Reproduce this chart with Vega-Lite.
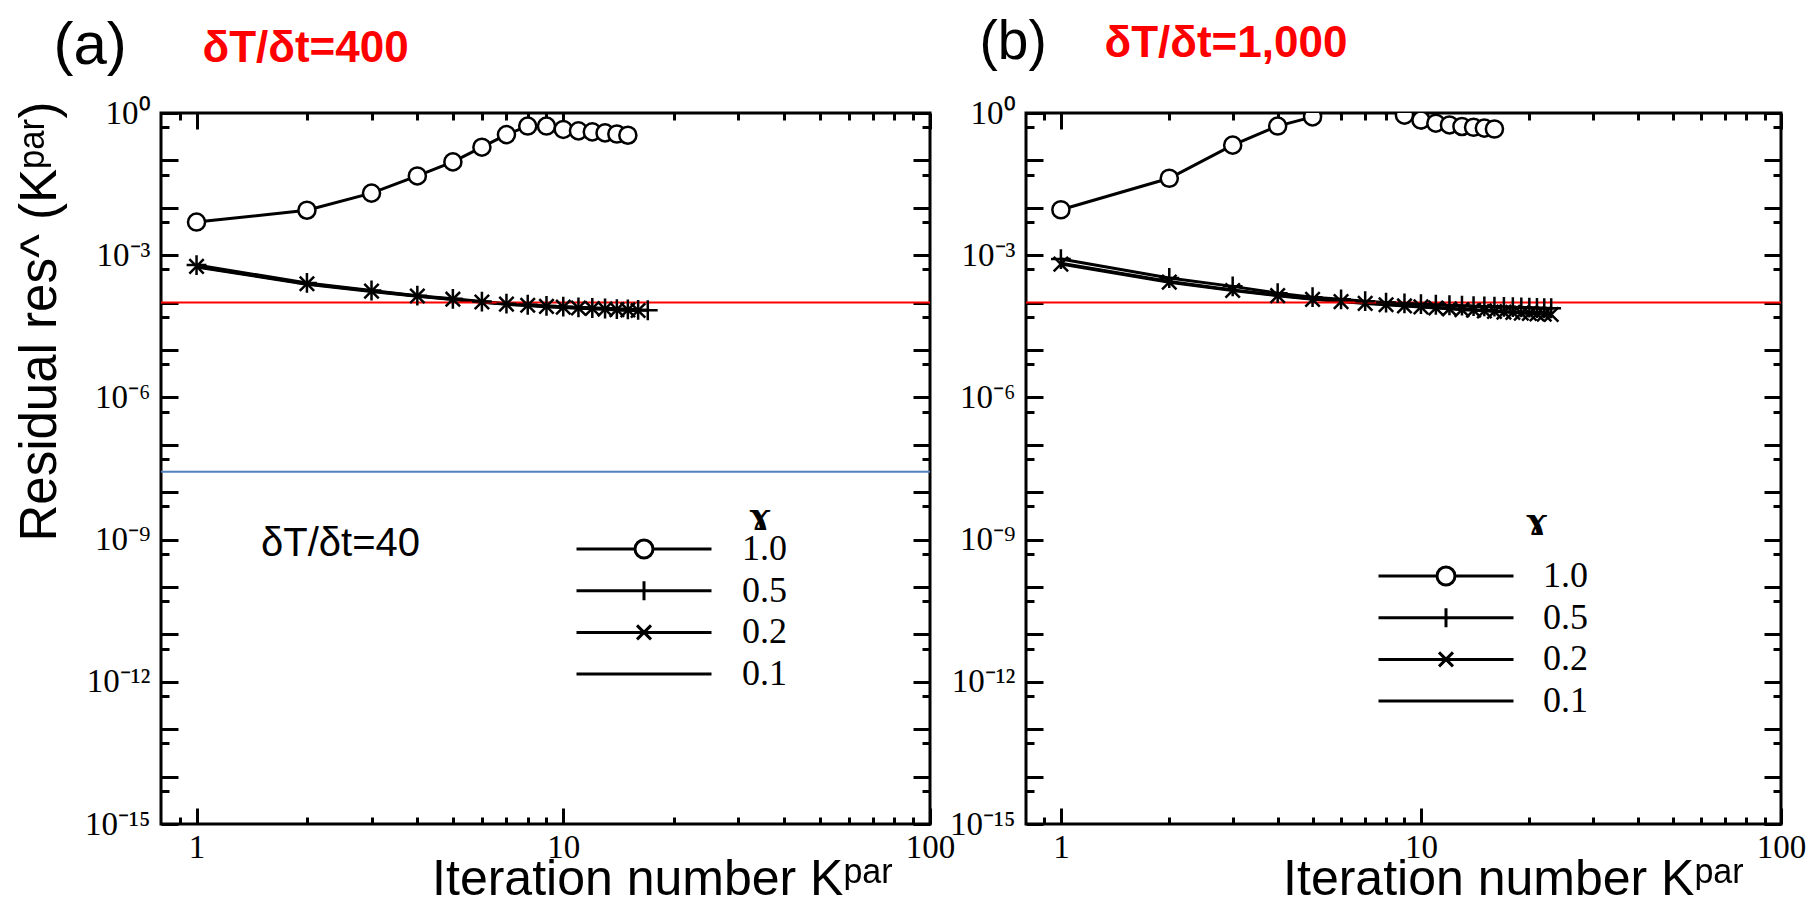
{
  "$schema": "https://vega.github.io/schema/vega-lite/v6.json",
  "background": "white",
  "padding": {"left": 12, "top": 12, "right": 0, "bottom": 0},
  "bounds": "flush",
  "spacing": 96,
  "resolve": {"scale": {"shape": "independent"}, "legend": {"shape": "independent"}},
  "datasets": {
    "a": [
      {"k":1,"r":0.005,"g":"1.0"},{"k":2,"r":0.0089,"g":"1.0"},{"k":3,"r":0.0204,"g":"1.0"},{"k":4,"r":0.047,"g":"1.0"},{"k":5,"r":0.093,"g":"1.0"},{"k":6,"r":0.19,"g":"1.0"},{"k":7,"r":0.35,"g":"1.0"},{"k":8,"r":0.53,"g":"1.0"},{"k":9,"r":0.53,"g":"1.0"},{"k":10,"r":0.45,"g":"1.0"},{"k":11,"r":0.42,"g":"1.0"},{"k":12,"r":0.4,"g":"1.0"},{"k":13,"r":0.38,"g":"1.0"},{"k":14,"r":0.36,"g":"1.0"},{"k":15,"r":0.34,"g":"1.0"},
      {"k":1,"r":0.00062,"g":"0.5"},{"k":2,"r":0.00026,"g":"0.5"},{"k":3,"r":0.00018,"g":"0.5"},{"k":4,"r":0.00014,"g":"0.5"},{"k":5,"r":0.00012,"g":"0.5"},{"k":6,"r":0.000105,"g":"0.5"},{"k":7,"r":0.000095,"g":"0.5"},{"k":8,"r":0.00009,"g":"0.5"},{"k":9,"r":0.000085,"g":"0.5"},{"k":10,"r":0.000082,"g":"0.5"},{"k":11,"r":0.000079,"g":"0.5"},{"k":12,"r":0.000077,"g":"0.5"},{"k":13,"r":0.000075,"g":"0.5"},{"k":14,"r":0.000073,"g":"0.5"},{"k":15,"r":0.000072,"g":"0.5"},{"k":16,"r":0.00007,"g":"0.5"},{"k":17,"r":0.000069,"g":"0.5"},
      {"k":1,"r":0.00058,"g":"0.2"},{"k":2,"r":0.00025,"g":"0.2"},{"k":3,"r":0.000175,"g":"0.2"},{"k":4,"r":0.000138,"g":"0.2"},{"k":5,"r":0.000118,"g":"0.2"},{"k":6,"r":0.000103,"g":"0.2"},{"k":7,"r":0.000093,"g":"0.2"},{"k":8,"r":0.000088,"g":"0.2"},{"k":9,"r":0.000083,"g":"0.2"},{"k":10,"r":0.00008,"g":"0.2"},{"k":11,"r":0.000077,"g":"0.2"},{"k":12,"r":0.000075,"g":"0.2"},{"k":13,"r":0.000073,"g":"0.2"},{"k":14,"r":0.000071,"g":"0.2"},{"k":15,"r":0.00007,"g":"0.2"},{"k":16,"r":0.000068,"g":"0.2"},
      {"k":1,"r":0.00056,"g":"0.1"},{"k":2,"r":0.000245,"g":"0.1"},{"k":3,"r":0.000172,"g":"0.1"},{"k":4,"r":0.000136,"g":"0.1"},{"k":5,"r":0.000116,"g":"0.1"},{"k":6,"r":0.000102,"g":"0.1"},{"k":7,"r":0.000092,"g":"0.1"},{"k":8,"r":0.000087,"g":"0.1"},{"k":9,"r":0.000082,"g":"0.1"},{"k":10,"r":0.000079,"g":"0.1"},{"k":11,"r":0.000076,"g":"0.1"},{"k":12,"r":0.000074,"g":"0.1"},{"k":13,"r":0.000072,"g":"0.1"},{"k":14,"r":0.00007,"g":"0.1"},{"k":15,"r":0.000069,"g":"0.1"},{"k":16,"r":0.000067,"g":"0.1"}
    ],
    "b": [
      {"k":1,"r":0.0091,"g":"1.0"},{"k":2,"r":0.042,"g":"1.0"},{"k":3,"r":0.21,"g":"1.0"},{"k":4,"r":0.53,"g":"1.0"},{"k":5,"r":0.83,"g":"1.0"},{"k":6,"r":1.5,"g":"1.0"},{"k":7,"r":1.6,"g":"1.0"},{"k":8,"r":1.5,"g":"1.0"},{"k":9,"r":0.9,"g":"1.0"},{"k":10,"r":0.71,"g":"1.0"},{"k":11,"r":0.61,"g":"1.0"},{"k":12,"r":0.56,"g":"1.0"},{"k":13,"r":0.52,"g":"1.0"},{"k":14,"r":0.5,"g":"1.0"},{"k":15,"r":0.48,"g":"1.0"},{"k":16,"r":0.46,"g":"1.0"},
      {"k":1,"r":0.00083,"g":"0.5"},{"k":2,"r":0.00033,"g":"0.5"},{"k":3,"r":0.00022,"g":"0.5"},{"k":4,"r":0.000158,"g":"0.5"},{"k":5,"r":0.00013,"g":"0.5"},{"k":6,"r":0.000117,"g":"0.5"},{"k":7,"r":0.000107,"g":"0.5"},{"k":8,"r":0.0001,"g":"0.5"},{"k":9,"r":0.000096,"g":"0.5"},{"k":10,"r":0.000093,"g":"0.5"},{"k":11,"r":0.00009,"g":"0.5"},{"k":12,"r":0.000088,"g":"0.5"},{"k":13,"r":0.000086,"g":"0.5"},{"k":14,"r":0.000084,"g":"0.5"},{"k":15,"r":0.000083,"g":"0.5"},{"k":16,"r":0.000082,"g":"0.5"},{"k":17,"r":0.000081,"g":"0.5"},{"k":18,"r":0.00008,"g":"0.5"},{"k":19,"r":0.000079,"g":"0.5"},{"k":20,"r":0.000078,"g":"0.5"},{"k":21,"r":0.000077,"g":"0.5"},{"k":22,"r":0.000076,"g":"0.5"},{"k":23,"r":0.000076,"g":"0.5"},
      {"k":1,"r":0.00065,"g":"0.2"},{"k":2,"r":0.00027,"g":"0.2"},{"k":3,"r":0.00018,"g":"0.2"},{"k":4,"r":0.00014,"g":"0.2"},{"k":5,"r":0.000117,"g":"0.2"},{"k":6,"r":0.000105,"g":"0.2"},{"k":7,"r":0.000096,"g":"0.2"},{"k":8,"r":0.00009,"g":"0.2"},{"k":9,"r":0.000085,"g":"0.2"},{"k":10,"r":0.000081,"g":"0.2"},{"k":11,"r":0.000077,"g":"0.2"},{"k":12,"r":0.000074,"g":"0.2"},{"k":13,"r":0.000071,"g":"0.2"},{"k":14,"r":0.000069,"g":"0.2"},{"k":15,"r":0.000067,"g":"0.2"},{"k":16,"r":0.000065,"g":"0.2"},{"k":17,"r":0.000063,"g":"0.2"},{"k":18,"r":0.000062,"g":"0.2"},{"k":19,"r":0.00006,"g":"0.2"},{"k":20,"r":0.000059,"g":"0.2"},{"k":21,"r":0.000058,"g":"0.2"},{"k":22,"r":0.000057,"g":"0.2"},{"k":23,"r":0.000056,"g":"0.2"},
      {"k":1,"r":0.00068,"g":"0.1"},{"k":2,"r":0.00028,"g":"0.1"},{"k":3,"r":0.000185,"g":"0.1"},{"k":4,"r":0.000143,"g":"0.1"},{"k":5,"r":0.00012,"g":"0.1"},{"k":6,"r":0.000107,"g":"0.1"},{"k":7,"r":0.000098,"g":"0.1"},{"k":8,"r":0.000092,"g":"0.1"},{"k":9,"r":0.000087,"g":"0.1"},{"k":10,"r":0.000083,"g":"0.1"},{"k":11,"r":0.000079,"g":"0.1"},{"k":12,"r":0.000076,"g":"0.1"},{"k":13,"r":0.000073,"g":"0.1"},{"k":14,"r":0.000071,"g":"0.1"},{"k":15,"r":0.000069,"g":"0.1"},{"k":16,"r":0.000067,"g":"0.1"},{"k":17,"r":0.000065,"g":"0.1"},{"k":18,"r":0.000064,"g":"0.1"},{"k":19,"r":0.000062,"g":"0.1"},{"k":20,"r":0.000061,"g":"0.1"},{"k":21,"r":0.00006,"g":"0.1"},{"k":22,"r":0.000059,"g":"0.1"},{"k":23,"r":0.000058,"g":"0.1"}
    ]
  },
  "config": {
    "view": {"stroke": "black", "strokeWidth": 3},
    "axis": {"grid": false, "domain": false, "tickColor": "black", "tickWidth": 3, "labelFont": "Liberation Serif", "labelFontSize": 33, "labelColor": "black", "titleFont": "Liberation Sans", "titleFontSize": 50, "titleFontWeight": "normal", "titleColor": "black", "labelFlush": false, "labelOverlap": false},
    "legend": {"orient": "none", "direction": "vertical", "columns": 1, "padding": 0, "offset": 0, "labelFont": "Liberation Serif", "labelFontSize": 36, "labelColor": "black", "rowPadding": 5.7, "symbolSize": 100, "symbolStrokeWidth": 3, "symbolOpacity": 1}
  },
  "hconcat": [
    {
      "width": 769,
      "height": 711,
      "data": {"name": "a"},
      "resolve": {"axis": {"x": "independent", "y": "independent"}, "scale": {"shape": "independent"}, "legend": {"shape": "independent"}},
      "layer": [
        {
          "data": {"values": [{}]},
          "mark": {"type": "rule", "color": "#4f81bd", "strokeWidth": 2},
          "encoding": {"y": {"datum": 2.7e-8, "type": "quantitative", "scale": {"type": "log", "domain": [1e-15, 1], "nice": false}, "axis": null}}
        },
        {
          "mark": {"type": "line", "color": "black", "strokeWidth": 3, "clip": true},
          "encoding": {
            "x": {"field": "k", "type": "quantitative", "scale": {"type": "log", "domain": [0.8, 100], "nice": false},
                  "axis": {"orient": "bottom", "values": [1, 10, 100], "ticks": false, "labelPadding": 7, "labelExpr": "datum.value < 5 ? '1' : datum.value < 50 ? '10' : '100'", "title": "Iteration number Kᵖᵃʳ", "titleX": 501, "titleY": 70, "titleAlign": "center", "titleBaseline": "alphabetic"}},
            "y": {"field": "r", "type": "quantitative", "scale": {"type": "log", "domain": [1e-15, 1], "nice": false},
                  "axis": {"orient": "left", "values": [1, 0.001, 1e-6, 1e-9, 1e-12, 1e-15], "ticks": false, "labelPadding": 11, "labelExpr": "datum.value > 0.5 ? '10⁰' : datum.value > 1e-4 ? '10⁻³' : datum.value > 1e-7 ? '10⁻⁶' : datum.value > 1e-10 ? '10⁻⁹' : datum.value > 1e-13 ? '10⁻¹²' : '10⁻¹⁵'", "title": "Residual res^ (Kᵖᵃʳ)", "titleFontSize": 51, "titleX": -106, "titleY": 208, "titleAngle": 270, "titleAlign": "center", "titleBaseline": "alphabetic"}},
            "detail": {"field": "g"},
            "order": {"field": "k"}
          }
        },
        {
          "data": {"values": [{}]},
          "mark": {"type": "rule", "color": "#ff0000", "strokeWidth": 2},
          "encoding": {"y": {"datum": 0.0001, "type": "quantitative", "scale": {"type": "log", "domain": [1e-15, 1], "nice": false}, "axis": null}}
        },
        {
          "transform": [{"filter": "datum.g != '0.1'"}],
          "mark": {"type": "point", "filled": true, "fill": "white", "stroke": "black", "strokeWidth": 2.5, "size": 324, "opacity": 1, "clip": true},
          "encoding": {
            "x": {"field": "k", "type": "quantitative", "scale": {"type": "log", "domain": [0.8, 100], "nice": false},
                  "axis": {"orient": "bottom", "values": [1, 10, 100], "labels": false, "tickSize": -16, "title": null}},
            "y": {"field": "r", "type": "quantitative", "scale": {"type": "log", "domain": [1e-15, 1], "nice": false},
                  "axis": {"orient": "left", "values": [1, 0.1, 0.01, 0.001, 1e-4, 1e-5, 1e-6, 1e-7, 1e-8, 1e-9, 1e-10, 1e-11, 1e-12, 1e-13, 1e-14, 1e-15], "labels": false, "tickSize": -17, "title": null}},
            "shape": {"field": "g", "type": "nominal",
                      "scale": {"domain": ["1.0", "0.5", "0.2", "0.1"], "range": ["M0.95,0A0.95,0.95,0,1,1,-0.95,0A0.95,0.95,0,1,1,0.95,0Z", "M-1.1,0H1.1M0,-1.1V1.1", "M-0.8,-0.8L0.8,0.8M-0.8,0.8L0.8,-0.8", "M0,0"]},
                      "legend": null}
          }
        },
        {
          "transform": [{"filter": "false"}],
          "mark": {"type": "point", "filled": true, "fill": "white", "stroke": "black", "strokeWidth": 3, "opacity": 1},
          "encoding": {
            "shape": {"field": "g", "type": "nominal",
                      "scale": {"domain": ["1.0", "0.5", "0.2", "0.1"], "range": ["M0,0H11.7M15.3,0H27M15.3,0A1.8,1.8,0,1,1,11.7,0A1.8,1.8,0,1,1,15.3,0Z", "M0,0H27M13.5,-1.9V1.9", "M0,0H27M12.1,-1.4L14.9,1.4M12.1,1.4L14.9,-1.4", "M0,0H27"]},
                      "legend": {"legendX": 397.5, "legendY": 418, "title": null, "labelOffset": 147.5}}
          }
        },
        {
          "mark": {"type": "point", "opacity": 0},
          "encoding": {
            "x": {"field": "k", "type": "quantitative", "scale": {"type": "log", "domain": [0.8, 100], "nice": false},
                  "axis": {"orient": "bottom", "values": [0.9, 2, 3, 4, 5, 6, 7, 8, 9, 20, 30, 40, 50, 60, 70, 80, 90], "labels": false, "tickSize": -7, "title": null}},
            "y": {"field": "r", "type": "quantitative", "scale": {"type": "log", "domain": [1e-15, 1], "nice": false},
                  "axis": {"orient": "left", "values": [0.5, 0.05, 0.005, 5e-4, 5e-5, 5e-6, 5e-7, 5e-8, 5e-9, 5e-10, 5e-11, 5e-12, 5e-13, 5e-14, 5e-15], "labels": false, "tickSize": -8, "title": null}}
          }
        },
        {
          "mark": {"type": "point", "opacity": 0},
          "encoding": {
            "x": {"field": "k", "type": "quantitative", "scale": {"type": "log", "domain": [0.8, 100], "nice": false},
                  "axis": {"orient": "top", "values": [1, 10, 100], "labels": false, "tickSize": -16, "title": "δT/δt=400", "titleColor": "#ff0000", "titleFont": "Liberation Sans", "titleFontSize": 44, "titleFontWeight": "bold", "titleX": 41, "titleY": -52, "titleAlign": "left", "titleBaseline": "alphabetic", "titleAngle": 0}},
            "y": {"field": "r", "type": "quantitative", "scale": {"type": "log", "domain": [1e-15, 1], "nice": false},
                  "axis": {"orient": "right", "values": [1, 0.1, 0.01, 0.001, 1e-4, 1e-5, 1e-6, 1e-7, 1e-8, 1e-9, 1e-10, 1e-11, 1e-12, 1e-13, 1e-14, 1e-15], "labels": false, "tickSize": -17, "title": null}}
          }
        },
        {
          "mark": {"type": "point", "opacity": 0},
          "encoding": {
            "x": {"field": "k", "type": "quantitative", "scale": {"type": "log", "domain": [0.8, 100], "nice": false},
                  "axis": {"orient": "top", "values": [0.9, 2, 3, 4, 5, 6, 7, 8, 9, 20, 30, 40, 50, 60, 70, 80, 90], "labels": false, "tickSize": -7, "title": "(a)", "titleFont": "Liberation Sans", "titleFontSize": 60, "titleFontWeight": "normal", "titleX": -108, "titleY": -50, "titleAlign": "left", "titleBaseline": "alphabetic", "titleAngle": 0}},
            "y": {"field": "r", "type": "quantitative", "scale": {"type": "log", "domain": [1e-15, 1], "nice": false},
                  "axis": {"orient": "right", "values": [0.5, 0.05, 0.005, 5e-4, 5e-5, 5e-6, 5e-7, 5e-8, 5e-9, 5e-10, 5e-11, 5e-12, 5e-13, 5e-14, 5e-15], "labels": false, "tickSize": -8, "title": null}}
          }
        },
        {
          "data": {"values": [{}]},
          "mark": {"type": "text", "text": "δT/δt=40", "font": "Liberation Sans", "fontSize": 40, "color": "black", "align": "center", "baseline": "middle"},
          "encoding": {
            "x": {"datum": 2.47, "type": "quantitative", "scale": {"type": "log", "domain": [0.8, 100], "nice": false}, "axis": null},
            "y": {"datum": 8.1e-10, "type": "quantitative", "scale": {"type": "log", "domain": [1e-15, 1], "nice": false}, "axis": null}
          }
        },
        {
          "data": {"values": [{}]},
          "mark": {"type": "text", "text": "ɤ", "font": "Liberation Serif", "fontSize": 44, "fontWeight": "bold", "color": "black", "align": "center", "baseline": "middle"},
          "encoding": {
            "x": {"datum": 34.4, "type": "quantitative", "scale": {"type": "log", "domain": [0.8, 100], "nice": false}, "axis": null},
            "y": {"datum": 3.0e-9, "type": "quantitative", "scale": {"type": "log", "domain": [1e-15, 1], "nice": false}, "axis": null}
          }
        }
      ]
    },
    {
      "width": 755,
      "height": 711,
      "data": {"name": "b"},
      "resolve": {"axis": {"x": "independent", "y": "independent"}, "scale": {"shape": "independent"}, "legend": {"shape": "independent"}},
      "layer": [
        {
          "mark": {"type": "line", "color": "black", "strokeWidth": 3, "clip": true},
          "encoding": {
            "x": {"field": "k", "type": "quantitative", "scale": {"type": "log", "domain": [0.8, 100], "nice": false},
                  "axis": {"orient": "bottom", "values": [1, 10, 100], "ticks": false, "labelPadding": 7, "labelExpr": "datum.value < 5 ? '1' : datum.value < 50 ? '10' : '100'", "title": "Iteration number Kᵖᵃʳ", "titleX": 487, "titleY": 70, "titleAlign": "center", "titleBaseline": "alphabetic"}},
            "y": {"field": "r", "type": "quantitative", "scale": {"type": "log", "domain": [1e-15, 1], "nice": false},
                  "axis": {"orient": "left", "values": [1, 0.001, 1e-6, 1e-9, 1e-12, 1e-15], "ticks": false, "labelPadding": 11, "labelExpr": "datum.value > 0.5 ? '10⁰' : datum.value > 1e-4 ? '10⁻³' : datum.value > 1e-7 ? '10⁻⁶' : datum.value > 1e-10 ? '10⁻⁹' : datum.value > 1e-13 ? '10⁻¹²' : '10⁻¹⁵'", "title": null}},
            "detail": {"field": "g"},
            "order": {"field": "k"}
          }
        },
        {
          "data": {"values": [{}]},
          "mark": {"type": "rule", "color": "#ff0000", "strokeWidth": 2},
          "encoding": {"y": {"datum": 0.0001, "type": "quantitative", "scale": {"type": "log", "domain": [1e-15, 1], "nice": false}, "axis": null}}
        },
        {
          "transform": [{"filter": "datum.g != '0.1'"}],
          "mark": {"type": "point", "filled": true, "fill": "white", "stroke": "black", "strokeWidth": 2.5, "size": 324, "opacity": 1, "clip": true},
          "encoding": {
            "x": {"field": "k", "type": "quantitative", "scale": {"type": "log", "domain": [0.8, 100], "nice": false},
                  "axis": {"orient": "bottom", "values": [1, 10, 100], "labels": false, "tickSize": -16, "title": null}},
            "y": {"field": "r", "type": "quantitative", "scale": {"type": "log", "domain": [1e-15, 1], "nice": false},
                  "axis": {"orient": "left", "values": [1, 0.1, 0.01, 0.001, 1e-4, 1e-5, 1e-6, 1e-7, 1e-8, 1e-9, 1e-10, 1e-11, 1e-12, 1e-13, 1e-14, 1e-15], "labels": false, "tickSize": -17, "title": null}},
            "shape": {"field": "g", "type": "nominal",
                      "scale": {"domain": ["1.0", "0.5", "0.2", "0.1"], "range": ["M0.95,0A0.95,0.95,0,1,1,-0.95,0A0.95,0.95,0,1,1,0.95,0Z", "M-1.1,0H1.1M0,-1.1V1.1", "M-0.8,-0.8L0.8,0.8M-0.8,0.8L0.8,-0.8", "M0,0"]},
                      "legend": null}
          }
        },
        {
          "transform": [{"filter": "false"}],
          "mark": {"type": "point", "filled": true, "fill": "white", "stroke": "black", "strokeWidth": 3, "opacity": 1},
          "encoding": {
            "shape": {"field": "g", "type": "nominal",
                      "scale": {"domain": ["1.0", "0.5", "0.2", "0.1"], "range": ["M0,0H11.7M15.3,0H27M15.3,0A1.8,1.8,0,1,1,11.7,0A1.8,1.8,0,1,1,15.3,0Z", "M0,0H27M13.5,-1.9V1.9", "M0,0H27M12.1,-1.4L14.9,1.4M12.1,1.4L14.9,-1.4", "M0,0H27"]},
                      "legend": {"legendX": 334.5, "legendY": 445, "title": null, "labelOffset": 146.5}}
          }
        },
        {
          "mark": {"type": "point", "opacity": 0},
          "encoding": {
            "x": {"field": "k", "type": "quantitative", "scale": {"type": "log", "domain": [0.8, 100], "nice": false},
                  "axis": {"orient": "bottom", "values": [0.9, 2, 3, 4, 5, 6, 7, 8, 9, 20, 30, 40, 50, 60, 70, 80, 90], "labels": false, "tickSize": -7, "title": null}},
            "y": {"field": "r", "type": "quantitative", "scale": {"type": "log", "domain": [1e-15, 1], "nice": false},
                  "axis": {"orient": "left", "values": [0.5, 0.05, 0.005, 5e-4, 5e-5, 5e-6, 5e-7, 5e-8, 5e-9, 5e-10, 5e-11, 5e-12, 5e-13, 5e-14, 5e-15], "labels": false, "tickSize": -8, "title": null}}
          }
        },
        {
          "mark": {"type": "point", "opacity": 0},
          "encoding": {
            "x": {"field": "k", "type": "quantitative", "scale": {"type": "log", "domain": [0.8, 100], "nice": false},
                  "axis": {"orient": "top", "values": [1, 10, 100], "labels": false, "tickSize": -16, "title": "δT/δt=1,000", "titleColor": "#ff0000", "titleFont": "Liberation Sans", "titleFontSize": 44, "titleFontWeight": "bold", "titleX": 78, "titleY": -57, "titleAlign": "left", "titleBaseline": "alphabetic", "titleAngle": 0}},
            "y": {"field": "r", "type": "quantitative", "scale": {"type": "log", "domain": [1e-15, 1], "nice": false},
                  "axis": {"orient": "right", "values": [1, 0.1, 0.01, 0.001, 1e-4, 1e-5, 1e-6, 1e-7, 1e-8, 1e-9, 1e-10, 1e-11, 1e-12, 1e-13, 1e-14, 1e-15], "labels": false, "tickSize": -17, "title": null}}
          }
        },
        {
          "mark": {"type": "point", "opacity": 0},
          "encoding": {
            "x": {"field": "k", "type": "quantitative", "scale": {"type": "log", "domain": [0.8, 100], "nice": false},
                  "axis": {"orient": "top", "values": [0.9, 2, 3, 4, 5, 6, 7, 8, 9, 20, 30, 40, 50, 60, 70, 80, 90], "labels": false, "tickSize": -7, "title": "(b)", "titleFont": "Liberation Sans", "titleFontSize": 55, "titleFontWeight": "normal", "titleX": -47, "titleY": -55, "titleAlign": "left", "titleBaseline": "alphabetic", "titleAngle": 0}},
            "y": {"field": "r", "type": "quantitative", "scale": {"type": "log", "domain": [1e-15, 1], "nice": false},
                  "axis": {"orient": "right", "values": [0.5, 0.05, 0.005, 5e-4, 5e-5, 5e-6, 5e-7, 5e-8, 5e-9, 5e-10, 5e-11, 5e-12, 5e-13, 5e-14, 5e-15], "labels": false, "tickSize": -8, "title": null}}
          }
        },
        {
          "data": {"values": [{}]},
          "mark": {"type": "text", "text": "ɤ", "font": "Liberation Serif", "fontSize": 44, "fontWeight": "bold", "color": "black", "align": "center", "baseline": "middle"},
          "encoding": {
            "x": {"datum": 21.0, "type": "quantitative", "scale": {"type": "log", "domain": [0.8, 100], "nice": false}, "axis": null},
            "y": {"datum": 2.4e-9, "type": "quantitative", "scale": {"type": "log", "domain": [1e-15, 1], "nice": false}, "axis": null}
          }
        }
      ]
    }
  ]
}
